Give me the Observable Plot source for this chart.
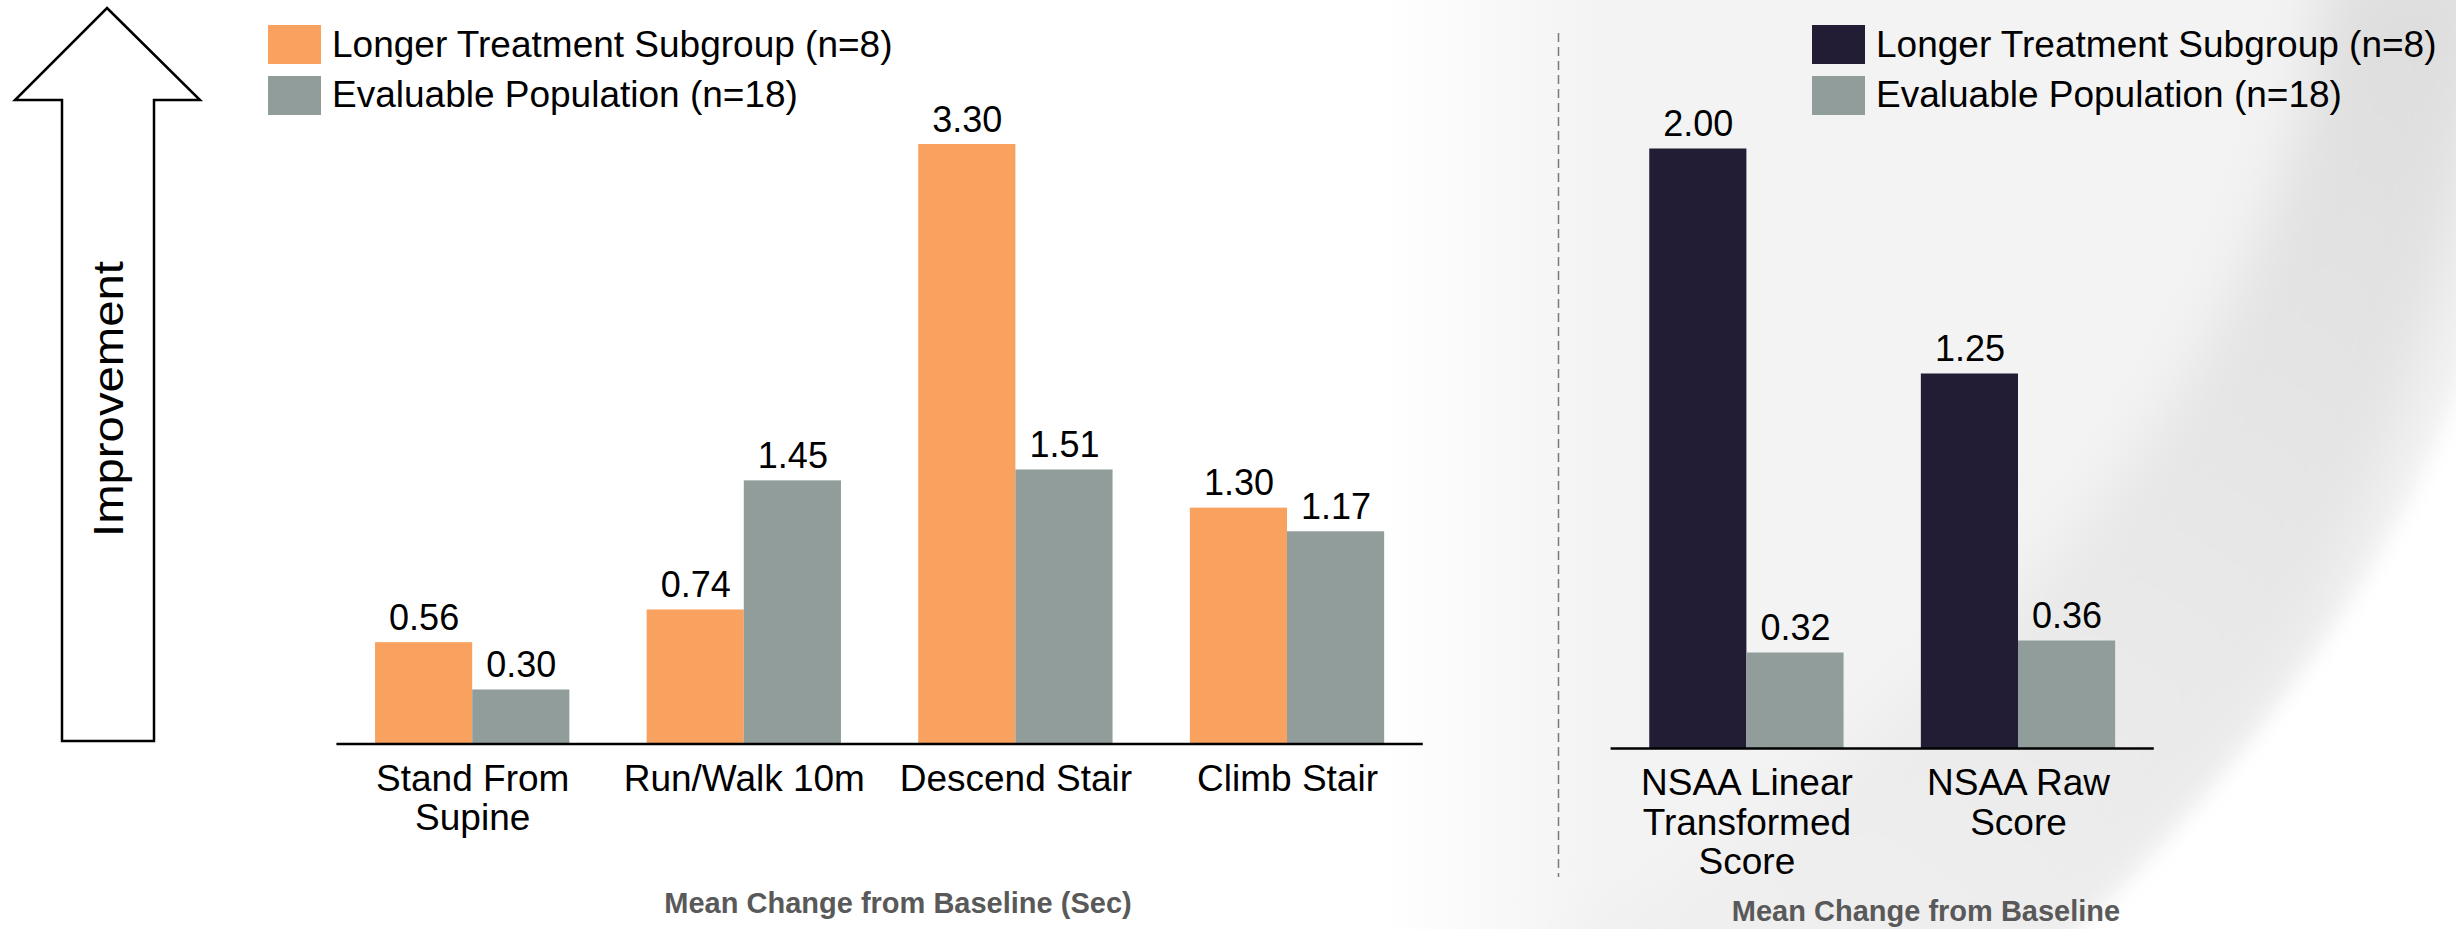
<!DOCTYPE html>
<html>
<head>
<meta charset="utf-8">
<script src="https://cdn.jsdelivr.net/npm/d3@7"></script>
<script src="https://cdn.jsdelivr.net/npm/@observablehq/plot@0.6"></script>
<style>
  html, body { margin: 0; padding: 0; background: #fff; }
  #stage { position: relative; width: 2456px; height: 929px; overflow: hidden; background: #fff; }
  #stage > svg { position: absolute; left: 0; top: 0; }
</style>
</head>
<body>
<div id="stage"></div>
<script>
// Timed function tests (left panel)
const timedCategories = ["Stand From Supine", "Run/Walk 10m", "Descend Stair", "Climb Stair"];
const timedTickLabels = ["Stand From\nSupine", "Run/Walk 10m", "Descend Stair", "Climb Stair"];
const timedLonger = [0.56, 0.74, 3.30, 1.30];
const timedEvaluable = [0.30, 1.45, 1.51, 1.17];

// NSAA scores (right panel)
const nsaaCategories = ["NSAA Linear Transformed Score", "NSAA Raw Score"];
const nsaaTickLabels = ["NSAA Linear\nTransformed\nScore", "NSAA Raw\nScore"];
const nsaaLonger = [2.00, 1.25];
const nsaaEvaluable = [0.32, 0.36];

const seriesNames = ["Longer Treatment Subgroup (n=8)", "Evaluable Population (n=18)"];
const timedColors = ["#F9A15E", "#909D9B"];
const nsaaColors = ["#221D34", "#909D9B"];

const timedTitle = "Mean Change from Baseline (Sec)";
const nsaaTitle = "Mean Change from Baseline";
const arrowLabel = "Improvement";

const W = 2456, H = 929;
const FONT = "Arial, 'Liberation Sans', Helvetica, sans-serif";
const stage = d3.select("#stage");

// ---------- backdrop: slide swoosh, arrow, divider, legends, titles ----------
const bg = stage.append("svg").attr("width", W).attr("height", H).attr("viewBox", `0 0 ${W} ${H}`)
  .style("font-family", FONT);
const defs = bg.append("defs");
const panelGrad = defs.append("linearGradient").attr("id", "panel")
  .attr("gradientUnits", "userSpaceOnUse").attr("x1", 1380).attr("x2", 1600).attr("y1", 0).attr("y2", 0);
panelGrad.append("stop").attr("offset", 0).attr("stop-color", "#ffffff");
panelGrad.append("stop").attr("offset", 1).attr("stop-color", "#f3f3f3");
const bandGrad = defs.append("linearGradient").attr("id", "band")
  .attr("gradientUnits", "userSpaceOnUse").attr("x1", 2400).attr("y1", 0).attr("x2", 1800).attr("y2", 929);
bandGrad.append("stop").attr("offset", 0).attr("stop-color", "#dedede");
bandGrad.append("stop").attr("offset", 0.55).attr("stop-color", "#e8e8e8");
bandGrad.append("stop").attr("offset", 1).attr("stop-color", "#efefef");
defs.append("filter").attr("id", "soft").attr("x", "-20%").attr("y", "-20%").attr("width", "140%").attr("height", "140%")
  .append("feGaussianBlur").attr("stdDeviation", 28);
defs.append("filter").attr("id", "softer").attr("x", "-20%").attr("y", "-20%").attr("width", "140%").attr("height", "140%")
  .append("feGaussianBlur").attr("stdDeviation", 10);

bg.append("rect").attr("x", 1380).attr("y", 0).attr("width", W - 1380).attr("height", H).attr("fill", "url(#panel)");
// sweeping grey band
bg.append("path")
  .attr("d", "M2330,-40 C2290,300 2100,620 1540,970 L2060,970 C2250,760 2430,540 2500,-40 Z")
  .attr("fill", "url(#band)").attr("filter", "url(#soft)");
// bright area beyond the band
bg.append("path")
  .attr("d", "M2490,280 C2440,520 2260,760 2040,970 L2500,970 Z")
  .attr("fill", "#ffffff").attr("filter", "url(#softer)");

// improvement arrow
bg.append("path")
  .attr("d", "M107,8 L200,100 L154,100 L154,741 L62,741 L62,100 L15,100 Z")
  .attr("fill", "#fff").attr("stroke", "#000").attr("stroke-width", 2.5).attr("stroke-linejoin", "miter");
bg.append("text")
  .attr("transform", "translate(108,399) rotate(-90)")
  .attr("text-anchor", "middle").attr("dy", "0.35em")
  .attr("font-size", 42).attr("textLength", 276).attr("lengthAdjust", "spacingAndGlyphs")
  .attr("fill", "#000").text(arrowLabel);

// dashed divider
bg.append("line").attr("x1", 1558.5).attr("x2", 1558.5).attr("y1", 33).attr("y2", 877)
  .attr("stroke", "#7a7a7a").attr("stroke-width", 1.5).attr("stroke-dasharray", "9,5");

// legends
function legend(x, colors) {
  const g = bg.append("g").attr("transform", `translate(${x},0)`);
  seriesNames.forEach((name, i) => {
    g.append("rect").attr("x", 0).attr("y", 25 + i * 51).attr("width", 53).attr("height", 39).attr("fill", colors[i]);
    g.append("text").attr("x", 64).attr("y", 57 + i * 50).attr("font-size", 37).attr("fill", "#000").text(name);
  });
}
legend(268, timedColors);
legend(1812, nsaaColors);

// axis titles
bg.append("text").attr("x", 898).attr("y", 913).attr("text-anchor", "middle")
  .attr("font-size", 29).attr("font-weight", "bold").attr("fill", "#595959").text(timedTitle);
bg.append("text").attr("x", 1926).attr("y", 921).attr("text-anchor", "middle")
  .attr("font-size", 29).attr("font-weight", "bold").attr("fill", "#595959").text(nsaaTitle);

// ---------- grouped bar charts ----------
function groupedBars({categories, tickLabels, values, colors, yMax, unit, baseline, x0, x1}) {
  const rows = categories.flatMap((c, i) =>
    seriesNames.map((s, j) => ({category: c, series: s, value: values[j][i]})));
  const chart = Plot.plot({
    width: W,
    height: H,
    marginLeft: x0,
    marginRight: W - x1,
    marginTop: baseline - yMax * unit,
    marginBottom: H - baseline,
    style: {background: "transparent", fontFamily: FONT, fontSize: "36px", overflow: "visible"},
    fx: {domain: categories, paddingInner: 0.2846, paddingOuter: 0.1423, round: false, label: null},
    x: {domain: seriesNames, padding: 0, round: false, axis: null},
    y: {domain: [0, yMax], axis: null},
    color: {domain: seriesNames, range: colors},
    marks: [
      Plot.barY(rows, {fx: "category", x: "series", y: "value", fill: "series"}),
      Plot.text(rows, {
        fx: "category", x: "series", y: "value",
        text: d => d.value.toFixed(2),
        lineAnchor: "bottom", dy: -13, fill: "#000", fontSize: 36
      }),
      Plot.axisFx({
        anchor: "bottom", tickSize: 0, tickPadding: 18, label: null,
        tickFormat: c => tickLabels[categories.indexOf(c)],
        lineHeight: 1.07, fontSize: 37, fill: "#000"
      })
    ]
  });
  // baseline spanning the full category range
  const fx = chart.scale("fx"), y = chart.scale("y");
  d3.select(chart).append("line")
    .attr("x1", fx.range[0]).attr("x2", fx.range[1])
    .attr("y1", y.apply(0)).attr("y2", y.apply(0))
    .attr("stroke", "#000").attr("stroke-width", 2.5);
  stage.node().appendChild(chart);
}

groupedBars({
  categories: timedCategories, tickLabels: timedTickLabels,
  values: [timedLonger, timedEvaluable], colors: timedColors,
  yMax: 3.5, unit: 600 / 3.3, baseline: 744, x0: 336.4, x1: 1422.8
});
groupedBars({
  categories: nsaaCategories, tickLabels: nsaaTickLabels,
  values: [nsaaLonger, nsaaEvaluable], colors: nsaaColors,
  yMax: 2.2, unit: 300, baseline: 748.5, x0: 1610.6, x1: 2153.8
});
</script>
</body>
</html>
